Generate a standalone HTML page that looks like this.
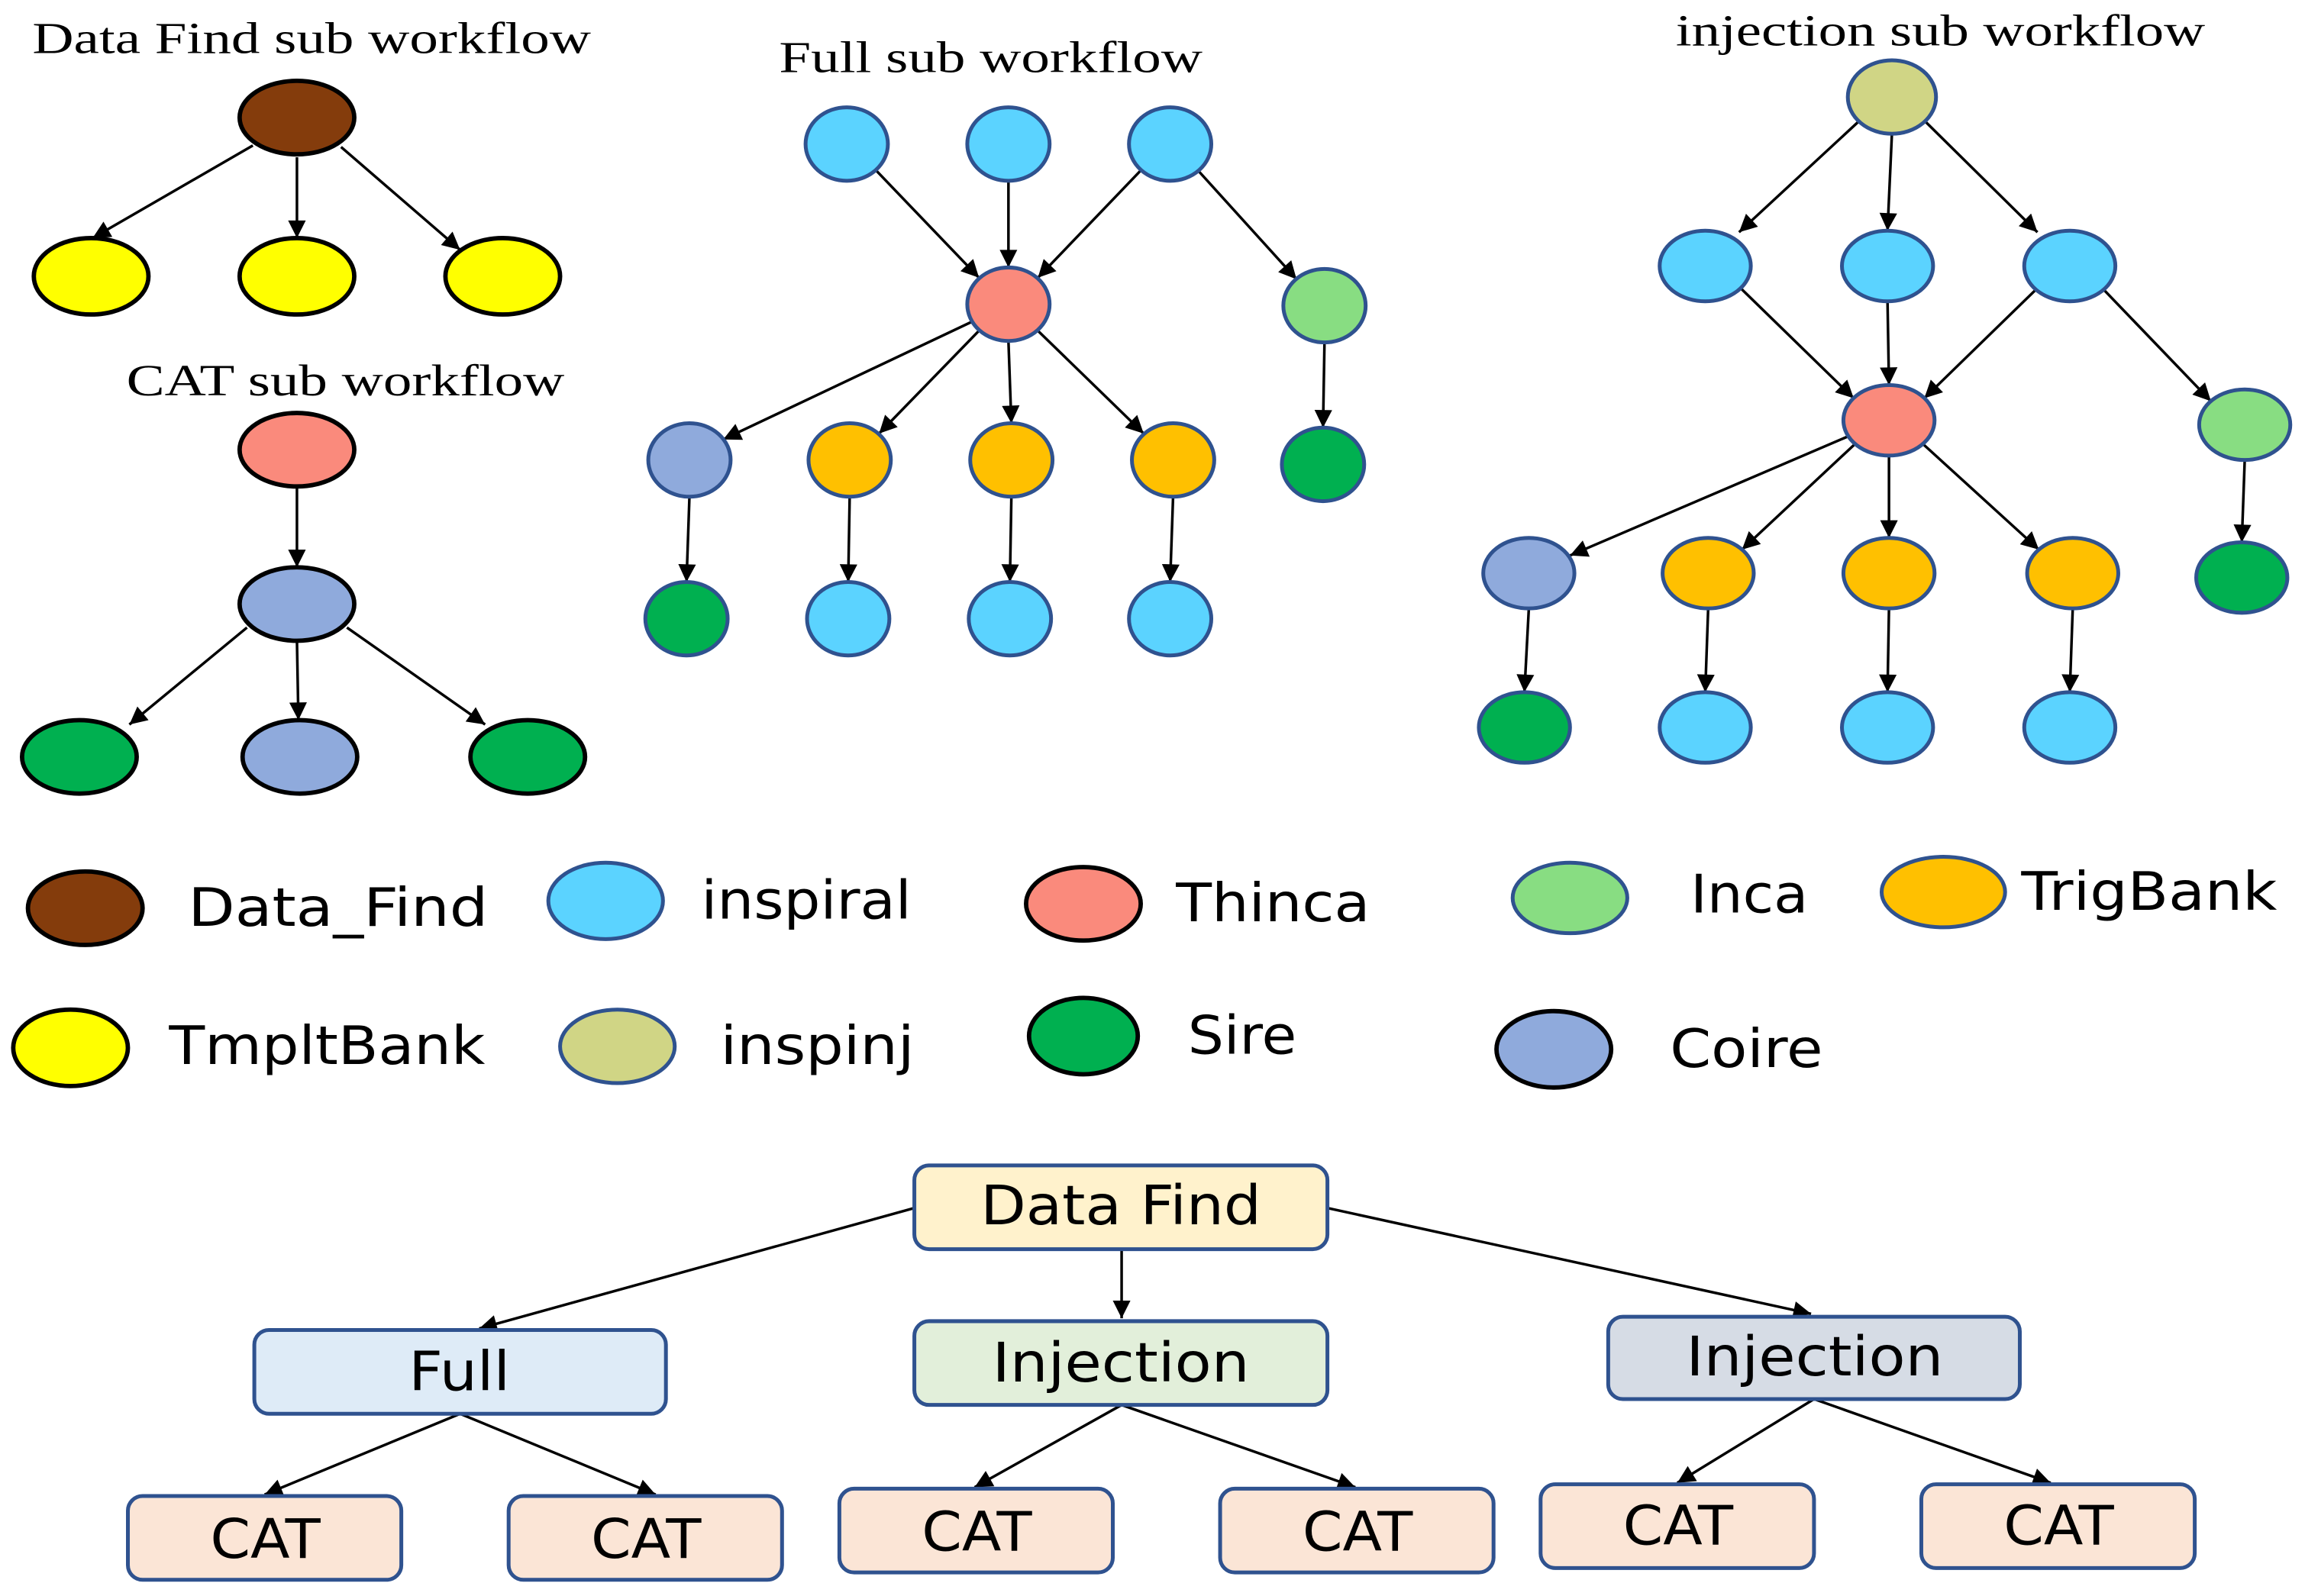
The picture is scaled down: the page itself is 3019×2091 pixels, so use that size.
<!DOCTYPE html>
<html><head><meta charset="utf-8"><style>
html,body{margin:0;padding:0;background:#fff;}
svg{display:block;}
.t{font-family:"Liberation Serif",serif;font-size:30px;fill:#000;}
.l{font-family:"DejaVu Sans","Liberation Sans",sans-serif;font-size:36px;fill:#000;}
.b{font-family:"DejaVu Sans","Liberation Sans",sans-serif;font-size:37px;fill:#000;}
line{stroke:#000;stroke-width:1.8;marker-end:url(#a);}
.k{stroke:#000;stroke-width:3;}
.u{stroke:#2f528f;stroke-width:2.6;}
rect{stroke:#2f528f;stroke-width:2.6;}
</style></head><body>
<svg width="3019" height="2091" viewBox="0 0 1568 1086" xmlns="http://www.w3.org/2000/svg">
<defs><marker id="a" viewBox="0 0 10 10" refX="10" refY="5" markerWidth="15" markerHeight="12" markerUnits="userSpaceOnUse" orient="auto"><path d="M0,0 L10,5 L0,10 z" fill="#000"/></marker></defs>

<!-- Titles -->
<text class="t" x="22" y="36" textLength="380" lengthAdjust="spacingAndGlyphs">Data Find sub workflow</text>
<text class="t" x="86" y="269" textLength="298" lengthAdjust="spacingAndGlyphs">CAT sub workflow</text>
<text class="t" x="530" y="49" textLength="288" lengthAdjust="spacingAndGlyphs">Full sub workflow</text>
<text class="t" x="1140" y="31" textLength="360" lengthAdjust="spacingAndGlyphs">injection sub workflow</text>

<!-- Data Find sub workflow -->
<line x1="172" y1="99" x2="63" y2="162"/>
<line x1="202" y1="107" x2="202" y2="162"/>
<line x1="232" y1="100" x2="313" y2="170"/>
<ellipse class="k" cx="202" cy="80" rx="39" ry="25" fill="#843c0c"/>
<ellipse class="k" cx="62" cy="188" rx="39" ry="26" fill="#ffff00"/>
<ellipse class="k" cx="202" cy="188" rx="39" ry="26" fill="#ffff00"/>
<ellipse class="k" cx="342" cy="188" rx="39" ry="26" fill="#ffff00"/>

<!-- CAT sub workflow -->
<line x1="202" y1="331" x2="202" y2="386"/>
<line x1="168" y1="427" x2="88" y2="493"/>
<line x1="202" y1="436" x2="203" y2="490"/>
<line x1="236" y1="427" x2="330" y2="493"/>
<ellipse class="k" cx="202" cy="306" rx="39" ry="25" fill="#fa8a7c"/>
<ellipse class="k" cx="202" cy="411" rx="39" ry="25" fill="#8faadc"/>
<ellipse class="k" cx="54" cy="515" rx="39" ry="25" fill="#00b050"/>
<ellipse class="k" cx="204" cy="515" rx="39" ry="25" fill="#8faadc"/>
<ellipse class="k" cx="359" cy="515" rx="39" ry="25" fill="#00b050"/>

<!-- Full sub workflow -->
<line x1="596" y1="116" x2="666" y2="189"/>
<line x1="686" y1="123" x2="686" y2="182"/>
<line x1="776" y1="116" x2="706" y2="189"/>
<line x1="815" y1="116" x2="882" y2="190"/>
<line x1="661" y1="219" x2="492" y2="299"/>
<line x1="666" y1="225" x2="598" y2="295"/>
<line x1="686" y1="232" x2="688" y2="288"/>
<line x1="706" y1="225" x2="778" y2="295"/>
<line x1="901" y1="233" x2="900" y2="291"/>
<line x1="469" y1="338" x2="467" y2="396"/>
<line x1="578" y1="338" x2="577" y2="396"/>
<line x1="688" y1="338" x2="687" y2="396"/>
<line x1="798" y1="338" x2="796" y2="396"/>
<ellipse class="u" cx="576" cy="98" rx="28" ry="25" fill="#5bd3ff"/>
<ellipse class="u" cx="686" cy="98" rx="28" ry="25" fill="#5bd3ff"/>
<ellipse class="u" cx="796" cy="98" rx="28" ry="25" fill="#5bd3ff"/>
<ellipse class="u" cx="686" cy="207" rx="28" ry="25" fill="#fa8a7c"/>
<ellipse class="u" cx="901" cy="208" rx="28" ry="25" fill="#88dd82"/>
<ellipse class="u" cx="469" cy="313" rx="28" ry="25" fill="#8faadc"/>
<ellipse class="u" cx="578" cy="313" rx="28" ry="25" fill="#ffc000"/>
<ellipse class="u" cx="688" cy="313" rx="28" ry="25" fill="#ffc000"/>
<ellipse class="u" cx="798" cy="313" rx="28" ry="25" fill="#ffc000"/>
<ellipse class="u" cx="900" cy="316" rx="28" ry="25" fill="#00b050"/>
<ellipse class="u" cx="467" cy="421" rx="28" ry="25" fill="#00b050"/>
<ellipse class="u" cx="577" cy="421" rx="28" ry="25" fill="#5bd3ff"/>
<ellipse class="u" cx="687" cy="421" rx="28" ry="25" fill="#5bd3ff"/>
<ellipse class="u" cx="796" cy="421" rx="28" ry="25" fill="#5bd3ff"/>

<!-- Injection sub workflow -->
<line x1="1264" y1="83" x2="1183" y2="158"/>
<line x1="1287" y1="91" x2="1284" y2="157"/>
<line x1="1309" y1="82" x2="1386" y2="158"/>
<line x1="1184" y1="196" x2="1261" y2="271"/>
<line x1="1284" y1="205" x2="1285" y2="262"/>
<line x1="1385" y1="197" x2="1309" y2="271"/>
<line x1="1431" y1="197" x2="1504" y2="273"/>
<line x1="1257" y1="297" x2="1068" y2="378"/>
<line x1="1262" y1="302" x2="1185" y2="374"/>
<line x1="1285" y1="310" x2="1285" y2="366"/>
<line x1="1308" y1="302" x2="1387" y2="374"/>
<line x1="1527" y1="313" x2="1525" y2="369"/>
<line x1="1040" y1="414" x2="1037" y2="471"/>
<line x1="1162" y1="414" x2="1160" y2="471"/>
<line x1="1285" y1="414" x2="1284" y2="471"/>
<line x1="1410" y1="414" x2="1408" y2="471"/>
<ellipse class="u" cx="1287" cy="66" rx="30" ry="25" fill="#d0d585"/>
<ellipse class="u" cx="1160" cy="181" rx="31" ry="24" fill="#5bd3ff"/>
<ellipse class="u" cx="1284" cy="181" rx="31" ry="24" fill="#5bd3ff"/>
<ellipse class="u" cx="1408" cy="181" rx="31" ry="24" fill="#5bd3ff"/>
<ellipse class="u" cx="1285" cy="286" rx="31" ry="24" fill="#fa8a7c"/>
<ellipse class="u" cx="1527" cy="289" rx="31" ry="24" fill="#88dd82"/>
<ellipse class="u" cx="1040" cy="390" rx="31" ry="24" fill="#8faadc"/>
<ellipse class="u" cx="1162" cy="390" rx="31" ry="24" fill="#ffc000"/>
<ellipse class="u" cx="1285" cy="390" rx="31" ry="24" fill="#ffc000"/>
<ellipse class="u" cx="1410" cy="390" rx="31" ry="24" fill="#ffc000"/>
<ellipse class="u" cx="1525" cy="393" rx="31" ry="24" fill="#00b050"/>
<ellipse class="u" cx="1037" cy="495" rx="31" ry="24" fill="#00b050"/>
<ellipse class="u" cx="1160" cy="495" rx="31" ry="24" fill="#5bd3ff"/>
<ellipse class="u" cx="1284" cy="495" rx="31" ry="24" fill="#5bd3ff"/>
<ellipse class="u" cx="1408" cy="495" rx="31" ry="24" fill="#5bd3ff"/>

<!-- Legend -->
<ellipse class="k" cx="58" cy="618" rx="39" ry="25" fill="#843c0c"/>
<text class="l" x="128" y="630" textLength="204" lengthAdjust="spacingAndGlyphs">Data_Find</text>
<ellipse class="u" cx="412" cy="613" rx="39" ry="26" fill="#5bd3ff"/>
<text class="l" x="477" y="625" textLength="143" lengthAdjust="spacingAndGlyphs">inspiral</text>
<ellipse class="k" cx="737" cy="615" rx="39" ry="25" fill="#fa8a7c"/>
<text class="l" x="800" y="627" textLength="132" lengthAdjust="spacingAndGlyphs">Thinca</text>
<ellipse class="u" cx="1068" cy="611" rx="39" ry="24" fill="#88dd82"/>
<text class="l" x="1150" y="621" textLength="80" lengthAdjust="spacingAndGlyphs">Inca</text>
<ellipse class="u" cx="1322" cy="607" rx="42" ry="24" fill="#ffc000"/>
<text class="l" x="1375" y="619" textLength="174" lengthAdjust="spacingAndGlyphs">TrigBank</text>
<ellipse class="k" cx="48" cy="713" rx="39" ry="26" fill="#ffff00"/>
<text class="l" x="115" y="724" textLength="215" lengthAdjust="spacingAndGlyphs">TmpltBank</text>
<ellipse class="u" cx="420" cy="712" rx="39" ry="25" fill="#d0d585"/>
<text class="l" x="490" y="724" textLength="132" lengthAdjust="spacingAndGlyphs">inspinj</text>
<ellipse class="k" cx="737" cy="705" rx="37" ry="26" fill="#00b050"/>
<text class="l" x="808" y="717" textLength="74" lengthAdjust="spacingAndGlyphs">Sire</text>
<ellipse class="k" cx="1057" cy="714" rx="39" ry="26" fill="#8faadc"/>
<text class="l" x="1136" y="726" textLength="104" lengthAdjust="spacingAndGlyphs">Coire</text>

<!-- Bottom hierarchy -->
<line x1="622" y1="822" x2="326" y2="904"/>
<line x1="763" y1="850" x2="763" y2="897"/>
<line x1="903" y1="822" x2="1232" y2="894"/>
<line x1="313" y1="962" x2="180" y2="1017"/>
<line x1="313" y1="962" x2="446" y2="1017"/>
<line x1="763" y1="956" x2="663" y2="1012"/>
<line x1="763" y1="956" x2="922" y2="1012"/>
<line x1="1234" y1="952" x2="1141" y2="1009"/>
<line x1="1234" y1="952" x2="1395" y2="1009"/>

<rect x="622" y="793" width="281" height="57" rx="10" fill="#fff2cc"/>
<text class="b" x="667" y="833" textLength="191" lengthAdjust="spacingAndGlyphs">Data Find</text>
<rect x="173" y="905" width="280" height="57" rx="10" fill="#deebf7"/>
<text class="b" x="278" y="946" textLength="69" lengthAdjust="spacingAndGlyphs">Full</text>
<rect x="622" y="899" width="281" height="57" rx="10" fill="#e2efda"/>
<text class="b" x="675" y="940" textLength="175" lengthAdjust="spacingAndGlyphs">Injection</text>
<rect x="1094" y="896" width="280" height="56" rx="10" fill="#d6dce5"/>
<text class="b" x="1147" y="936" textLength="175" lengthAdjust="spacingAndGlyphs">Injection</text>

<rect x="87" y="1018" width="186" height="57" rx="10" fill="#fbe5d6"/>
<text class="b" x="143" y="1060" textLength="75" lengthAdjust="spacingAndGlyphs">CAT</text>
<rect x="346" y="1018" width="186" height="57" rx="10" fill="#fbe5d6"/>
<text class="b" x="402" y="1060" textLength="75" lengthAdjust="spacingAndGlyphs">CAT</text>
<rect x="571" y="1013" width="186" height="57" rx="10" fill="#fbe5d6"/>
<text class="b" x="627" y="1055" textLength="75" lengthAdjust="spacingAndGlyphs">CAT</text>
<rect x="830" y="1013" width="186" height="57" rx="10" fill="#fbe5d6"/>
<text class="b" x="886" y="1055" textLength="75" lengthAdjust="spacingAndGlyphs">CAT</text>
<rect x="1048" y="1010" width="186" height="57" rx="10" fill="#fbe5d6"/>
<text class="b" x="1104" y="1051" textLength="75" lengthAdjust="spacingAndGlyphs">CAT</text>
<rect x="1307" y="1010" width="186" height="57" rx="10" fill="#fbe5d6"/>
<text class="b" x="1363" y="1051" textLength="75" lengthAdjust="spacingAndGlyphs">CAT</text>
</svg>
</body></html>
